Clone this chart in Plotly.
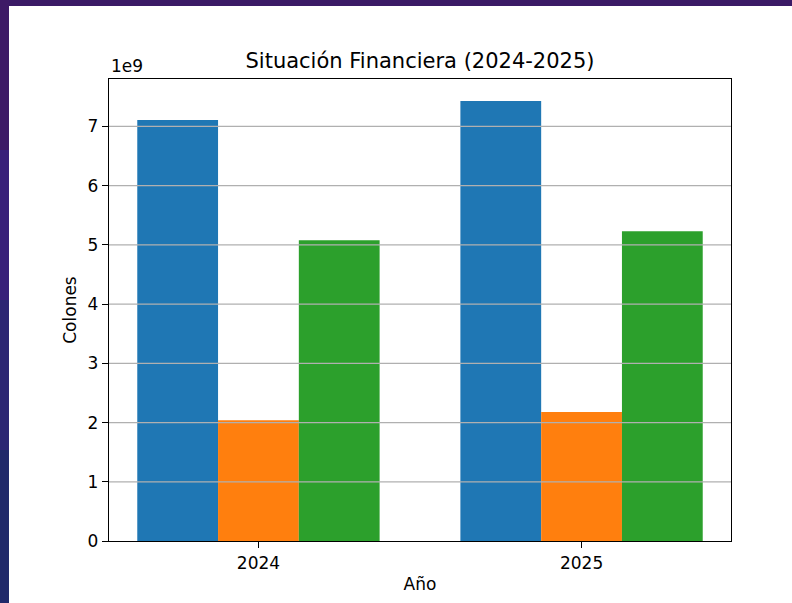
import plotly.graph_objects as go

# ─────────────────────────────────────────────
# Data (colones)
# ─────────────────────────────────────────────
years = ["2024", "2025"]
activos = [7.11e9, 7.43e9]
pasivos = [2.04e9, 2.18e9]
patrimonio = [5.08e9, 5.23e9]
y_ticks = [0, 1, 2, 3, 4, 5, 6, 7]

W, H = 792, 603
L, R, T, B = 109, 61, 79, 62
FONT = "DejaVu Sans"


def px_to_paper(x=None, y=None):
    pw, ph = W - L - R, H - T - B
    out = []
    if x is not None:
        out.append((x - L) / pw)
    if y is not None:
        out.append((H - B - y) / ph)
    return out[0] if len(out) == 1 else out


fig = go.Figure()
fig.add_trace(go.Bar(x=years, y=activos, name="Activos",
                     marker=dict(color="#1f77b4", line=dict(width=0))))
fig.add_trace(go.Bar(x=years, y=pasivos, name="Pasivos",
                     marker=dict(color="#ff7f0e", line=dict(width=0))))
fig.add_trace(go.Bar(x=years, y=patrimonio, name="Patrimonio",
                     marker=dict(color="#2ca02c", line=dict(width=0))))

ymax = max(activos + pasivos + patrimonio) * 1.05

# purple frame + white figure area
shapes = []
x0, y0 = px_to_paper(x=9, y=6)
x1, y1 = px_to_paper(x=W, y=H)
band_colors = ["#3e1a66", "#38207a", "#2c2673", "#20296a"]
bands = [(0, 150), (150, 300), (300, 450), (450, H)]
for (a, b), c in zip(bands, band_colors):
    _, ya = px_to_paper(x=0, y=a)
    _, yb = px_to_paper(x=0, y=b)
    shapes.append(dict(type="rect", xref="paper", yref="paper",
                       x0=px_to_paper(x=0), x1=x0, y0=yb, y1=ya,
                       fillcolor=c, line=dict(width=0), layer="below"))
shapes.append(dict(type="rect", xref="paper", yref="paper",
                   x0=x0, x1=x1, y0=y1, y1=y0,
                   fillcolor="white", line=dict(width=0), layer="below"))

# horizontal grid drawn on top of the bars (like matplotlib)
for t in y_ticks[1:]:
    shapes.append(dict(type="line", xref="paper", yref="y",
                       x0=0, x1=1, y0=t * 1e9, y1=t * 1e9,
                       line=dict(color="#b0b0b0", width=1.3), layer="above"))

fig.update_layout(
    width=W, height=H,
    margin=dict(l=L, r=R, t=T, b=B),
    paper_bgcolor="#3b1a66",
    plot_bgcolor="white",
    barmode="group",
    bargap=0.25,
    bargroupgap=0,
    showlegend=False,
    font=dict(family=FONT, size=17, color="black"),
    title=dict(text="Situación Financiera (2024-2025)",
               x=(L + (W - L - R) / 2) / W, xanchor="center",
               y=(H - 61) / H, yanchor="middle",
               font=dict(family=FONT, size=21, color="black")),
    shapes=shapes,
    annotations=[dict(text="1e9", xref="paper", yref="paper",
                      x=0, y=1, xanchor="left", yanchor="bottom",
                      yshift=1, showarrow=False,
                      font=dict(family=FONT, size=17, color="black"))],
)

fig.update_xaxes(
    type="category",
    range=[-0.4625, 1.4625],
    showgrid=False,
    showline=True, linecolor="black", linewidth=1.4, mirror=True,
    ticks="outside", ticklen=6, tickwidth=1.4, tickcolor="black",
    ticklabelstandoff=0,
    title=dict(text="Año", standoff=6, font=dict(family=FONT, size=17)),
)
fig.update_yaxes(
    range=[0, ymax],
    tickvals=[t * 1e9 for t in y_ticks],
    ticktext=[str(t) for t in y_ticks],
    showgrid=False, zeroline=False,
    showline=True, linecolor="black", linewidth=1.4, mirror=True,
    ticks="outside", ticklen=6, tickwidth=1.4, tickcolor="black",
    title=dict(text="Colones", standoff=6, font=dict(family=FONT, size=17)),
)

# page body margin would shift the figure by 8px
fig.write_html("out.html",
               config={"displayModeBar": False},
               post_script="document.body.style.margin='0';"
                           "document.body.style.background='#3b1a66';")
